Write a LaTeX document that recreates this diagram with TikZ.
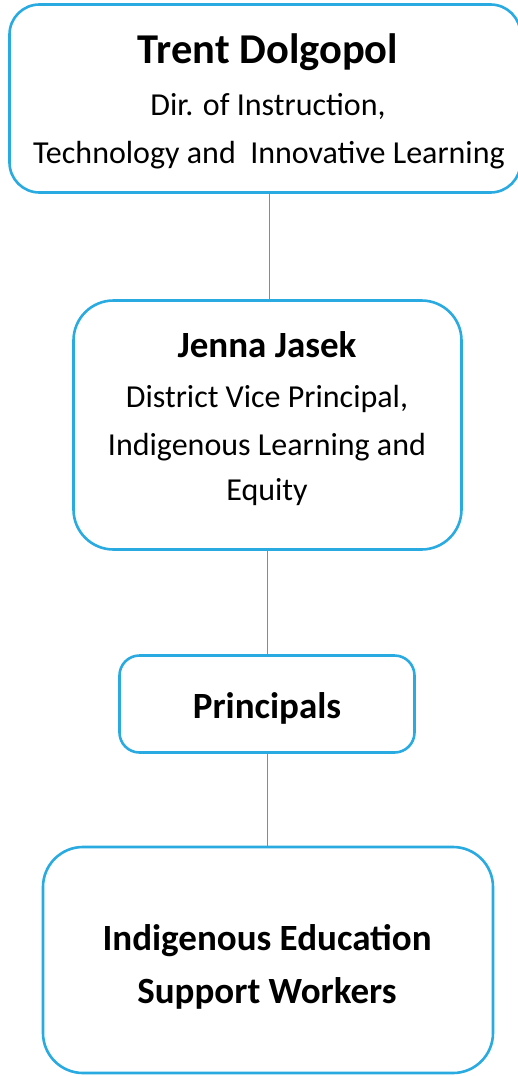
\documentclass[tikz,border=0pt]{standalone}
\usepackage{fontspec}
\setmainfont{Carlito}
\definecolor{boxblue}{RGB}{41,170,225}
\begin{document}
\begin{tikzpicture}[x=1pt,y=-1pt,
  box/.style={draw=boxblue, line width=2.6pt, rounded corners=#1, inner sep=0pt},
  box/.default=30pt,
  conn/.style={draw=boxblue, line width=1.3pt},
  ttl/.style={anchor=base, inner sep=0pt, font=\bfseries\fontsize{#1}{#1}\selectfont},
  sub/.style={anchor=base, inner sep=0pt, font=\fontsize{#1}{#1}\selectfont}]
\useasboundingbox (0,0) rectangle (518,1076);
% boxes
\node[box=30pt, minimum width=511pt, minimum height=188pt] (b1) at (265,98.5) {};
\node[box=40pt, minimum width=388pt, minimum height=249pt] (b2) at (267.5,425) {};
\node[box=20pt, minimum width=295pt, minimum height=97pt] (b3) at (267,704) {};
\node[box=40pt, minimum width=450pt, minimum height=226pt] (b4) at (268,960) {};
% connectors
\draw[conn] (269.3,0 |- b1.south) -- (269.3,0 |- b2.north);
\draw[conn] (267.3,0 |- b2.south) -- (267.3,0 |- b3.north);
\draw[conn] (267.3,0 |- b3.south) -- (267.3,0 |- b4.north);
% texts
\node[ttl=42.5] (t1) at (268,63) {Trent Dolgopol};
\node[sub=32] (s1a) at (268,115) {Dir. of Instruction,};
\node[sub=32] (s1b) at (269,163) {Technology and\ \ Innovative Learning};
\node[ttl=37] (t2) at (267,357) {Jenna Jasek};
\node[sub=32] (s2a) at (267,407) {District Vice Principal,};
\node[sub=32] (s2b) at (267,455) {Indigenous Learning and};
\node[sub=32] (s2c) at (267,500) {Equity};
\node[ttl=37] (t3) at (267,718) {Principals};
\node[ttl=37] (t4a) at (267,950) {Indigenous Education};
\node[ttl=37] (t4b) at (267,1003) {Support Workers};
\end{tikzpicture}
\end{document}
